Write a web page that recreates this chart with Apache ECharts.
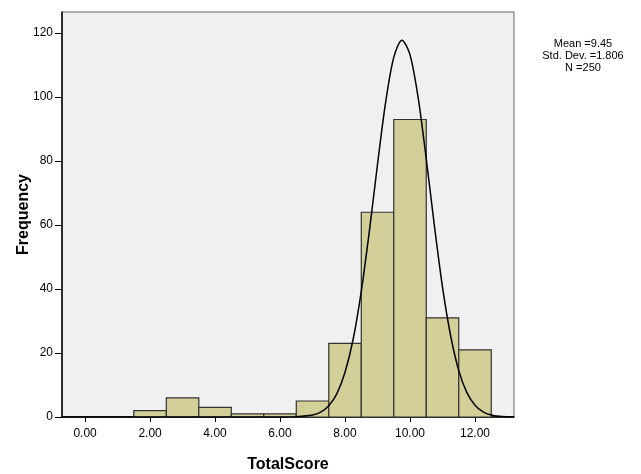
<!DOCTYPE html>
<html>
<head>
<meta charset="utf-8">
<script src="https://cdn.jsdelivr.net/npm/echarts@6/dist/echarts.min.js"></script>
<style>html,body{margin:0;padding:0;background:#fff}#c{width:641px;height:474px}</style>
</head>
<body>
<div id="c"></div>
<script>
// Histogram bins (bin centers, width 1) and frequencies
const binCenters = [2, 3, 4, 5, 6, 7, 8, 9, 10, 11, 12];
const frequencies = [2, 6, 3, 1, 1, 5, 23, 64, 93, 31, 21];
// Normal curve points
const curveX = [-0.7, 6.0, 6.5, 7.0, 7.25, 7.5, 7.75, 8.0, 8.25, 8.5, 8.75, 9.0, 9.25, 9.5, 9.75, 10.0, 10.25, 10.5, 10.75, 11.0, 11.25, 11.5, 11.75, 12.0, 12.25, 12.5, 12.75, 13.0, 13.2];
const curveY = [0, 0, 0.1, 0.6, 1.5, 3.5, 7.3, 14, 24.3, 39.3, 58.2, 79, 98.4, 112.4, 117.8, 113.2, 99.8, 80.7, 59.8, 40.6, 25.4, 14.5, 7.6, 3.7, 1.6, 0.6, 0.2, 0.05, 0];
const xTicks = [0, 2, 4, 6, 8, 10, 12];
const yTicks = [0, 20, 40, 60, 80, 100, 120];
const statLines = ['Mean =9.45', 'Std. Dev. =1.806', 'N =250'];

const chart = echarts.init(document.getElementById('c'), null, {renderer: 'canvas'});
const font = 'Liberation Sans, Arial, sans-serif';
const barData = binCenters.map((c, i) => [c, frequencies[i]]);
const curveData = curveX.map((x, i) => [x, curveY[i]]);

chart.setOption({
  animation: false,
  backgroundColor: '#fff',
  grid: {left: 62, top: 12, right: 127, bottom: 57, show: true, backgroundColor: '#f0f0f0', borderColor: '#666', borderWidth: 1, outerBoundsMode: 'none', containLabel: false},
  xAxis: {
    type: 'value', min: -0.71, max: 13.2,
    name: 'TotalScore', nameLocation: 'middle', nameGap: 40, nameMoveOverlap: false,
    nameTextStyle: {fontFamily: font, fontSize: 16, fontWeight: 'bold', color: '#000'},
    axisLine: {show: true, onZero: false, lineStyle: {color: '#000', width: 1.5}},
    axisTick: {show: true, length: 5, customValues: xTicks, lineStyle: {color: '#000'}},
    axisLabel: {customValues: xTicks, formatter: v => v.toFixed(2), fontFamily: font, fontSize: 12, color: '#000', margin: 11},
    splitLine: {show: false}
  },
  yAxis: {
    type: 'value', min: 0, max: 126.6,
    name: 'Frequency', nameLocation: 'middle', nameGap: 30, nameMoveOverlap: false,
    nameTextStyle: {fontFamily: font, fontSize: 16, fontWeight: 'bold', color: '#000'},
    axisLine: {show: true, onZero: false, lineStyle: {color: '#000', width: 1.5}},
    axisTick: {show: true, length: 7, customValues: yTicks, lineStyle: {color: '#000'}},
    axisLabel: {customValues: yTicks, fontFamily: font, fontSize: 12, color: '#000', margin: 9},
    splitLine: {show: false}
  },
  graphic: [{
    type: 'text', left: 583 - 50, top: 38,
    style: {text: statLines.join('\n'), x: 0, y: 0, width: 100, textAlign: 'center', font: '11px ' + font, fill: '#000', lineHeight: 12}
  }],
  series: [{
    type: 'custom',
    data: barData,
    renderItem: function (params, api) {
      const c = api.value(0), v = api.value(1);
      const p0 = api.coord([c - 0.5, v]);
      const p1 = api.coord([c + 0.5, 0]);
      return {type: 'rect', shape: {x: p0[0], y: p0[1], width: p1[0] - p0[0], height: p1[1] - p0[1]},
        style: {fill: '#d3cf98', stroke: '#333', lineWidth: 1.2}};
    },
    z: 2
  }, {
    type: 'line', data: curveData, smooth: 0.3, showSymbol: false,
    lineStyle: {color: '#000', width: 1.5}, z: 3
  }]
});
</script>
</body>
</html>
